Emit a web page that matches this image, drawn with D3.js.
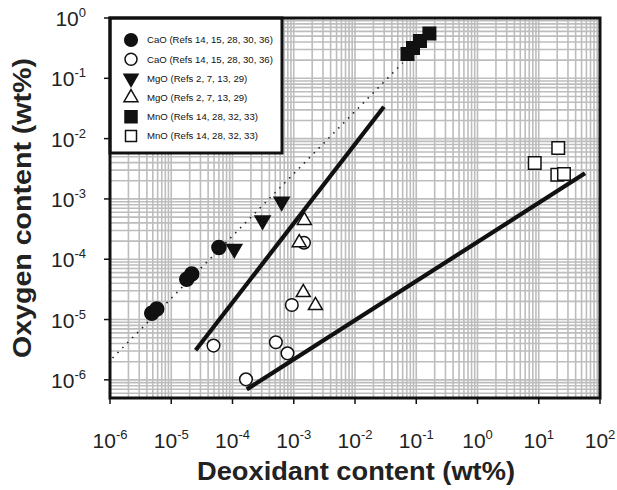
<!DOCTYPE html>
<html>
<head>
<meta charset="utf-8">
<script src="https://cdn.jsdelivr.net/npm/d3@7"></script>
<style>
  body { margin: 0; background: #fff; }
  svg { display: block; font-family: "Liberation Sans", Arial, sans-serif; }
</style>
</head>
<body>
<div class="chart"></div>
<script>
// data (wt%)
const caoFilled = [[4.8e-6, 1.27e-5], [5.8e-6, 1.49e-5], [1.79e-5, 4.64e-5], [2.16e-5, 5.69e-5], [6.0e-5, 1.57e-4]];
const caoOpen = [[1.47e-3, 1.88e-4], [9.3e-4, 1.74e-5], [4.9e-5, 3.7e-6], [5.1e-4, 4.2e-6], [7.9e-4, 2.75e-6], [1.66e-4, 1.02e-6]];
const mgoFilled = [[1.07e-4, 1.49e-4], [3.1e-4, 4.4e-4], [6.35e-4, 9.0e-4]];
const mgoOpen = [[1.49e-3, 4.4e-4], [1.23e-3, 1.88e-4], [1.43e-3, 2.8e-5], [2.26e-3, 1.71e-5]];
const mnoFilled = [[0.072, 0.253], [0.0885, 0.318], [0.115, 0.416], [0.164, 0.553]];
const mnoOpen = [[8.6, 3.94e-3], [20.8, 6.98e-3], [20.1, 2.52e-3], [25.8, 2.59e-3]];
const lineA = [[2.5e-5, 3.1e-6], [0.0297, 0.0338]];
const lineB = [[1.71e-4, 6.95e-7], [56.9, 2.66e-3]];
const dottedFit = [[1.1e-6, 2.3e-6], [0.06, 0.18]];

const xTicks = [-6, -5, -4, -3, -2, -1, 0, 1, 2];
const yTicks = [0, -1, -2, -3, -4, -5, -6];
const legendLabels = ["CaO (Refs 14, 15, 28, 30, 36)", "CaO (Refs 14, 15, 28, 30, 36)",
  "MgO (Refs 2, 7, 13, 29)", "MgO (Refs 2, 7, 13, 29)",
  "MnO (Refs 14, 28, 32, 33)", "MnO (Refs 14, 28, 32, 33)"];

const W = 617, H = 490;
const plot = {left: 110, right: 600, top: 18, bottom: 398};

const svg = d3.select(".chart").append("svg")
  .attr("width", W).attr("height", H);

const xScale = d3.scaleLog().domain([1e-6, 1e2]).range([plot.left, plot.right]);
const yScale = d3.scaleLog().domain([5e-7, 1]).range([plot.bottom, plot.top]);

// grid (every 1..9 x decade)
const xGrid = [], yGrid = [];
for (let e = -6; e < 2; e++) for (let k = 1; k < 10; k++) xGrid.push(k * Math.pow(10, e));
for (let e = -7; e < 0; e++) for (let k = 1; k < 10; k++) {
  const v = k * Math.pow(10, e);
  if (v >= 5e-7) yGrid.push(v);
}

const grid = svg.append("g").attr("stroke", "#bdbdbd").attr("stroke-width", 1.6);
grid.selectAll(".gx").data(xGrid).join("line")
  .attr("x1", d => xScale(d)).attr("x2", d => xScale(d))
  .attr("y1", plot.top).attr("y2", plot.bottom);
grid.selectAll(".gy").data(yGrid).join("line")
  .attr("y1", d => yScale(d)).attr("y2", d => yScale(d))
  .attr("x1", plot.left).attr("x2", plot.right);

const line = d3.line().x(d => xScale(d[0])).y(d => yScale(d[1]));

svg.append("path").datum(dottedFit)
  .attr("d", line)
  .attr("fill", "none").attr("stroke", "#222").attr("stroke-width", 1.6)
  .attr("stroke-dasharray", "1.5,5.5");

svg.selectAll(".fit").data([lineA, lineB]).join("path")
  .attr("d", line)
  .attr("fill", "none").attr("stroke", "#111").attr("stroke-width", 4.2)
  .attr("stroke-linecap", "butt");

// symbols
const circleSym = r => d3.symbol(d3.symbolCircle, Math.PI * r * r)();
const triSym = w => d3.symbol(d3.symbolTriangle, Math.sqrt(3) / 4 * w * w)();
const sqSym = s => d3.symbol(d3.symbolSquare, s * s)();

const styles = [
  {data: caoFilled, path: circleSym(7), fill: "#111", rot: 0},
  {data: mgoFilled, path: triSym(15), fill: "#111", rot: 180},
  {data: mnoFilled, path: sqSym(12.5), fill: "#111", rot: 0},
  {data: caoOpen, path: circleSym(6.3), fill: "#fff", rot: 0},
  {data: mgoOpen, path: triSym(14), fill: "#fff", rot: 0},
  {data: mnoOpen, path: sqSym(12.5), fill: "#fff", rot: 0}
];

styles.forEach(s => {
  svg.append("g").selectAll("path").data(s.data).join("path")
    .attr("d", s.path)
    .attr("transform", d => `translate(${xScale(d[0])},${yScale(d[1])}) rotate(${s.rot})`)
    .attr("fill", s.fill)
    .attr("stroke", "#111").attr("stroke-width", 1.5);
});

// legend
const legend = svg.append("g");
legend.append("rect")
  .attr("x", plot.left).attr("y", plot.top)
  .attr("width", 172).attr("height", 135)
  .attr("fill", "#fff").attr("stroke", "#111").attr("stroke-width", 3);

const legendSyms = [
  {path: circleSym(6.3), fill: "#111", rot: 0},
  {path: circleSym(6), fill: "#fff", rot: 0},
  {path: triSym(14), fill: "#111", rot: 180},
  {path: triSym(14), fill: "#fff", rot: 0},
  {path: sqSym(12), fill: "#111", rot: 0},
  {path: sqSym(11), fill: "#fff", rot: 0}
];

const rows = legend.selectAll(".row").data(legendLabels).join("g")
  .attr("transform", (d, i) => `translate(131,${40 + i * 19.2})`);
rows.append("path")
  .attr("d", (d, i) => legendSyms[i].path)
  .attr("transform", (d, i) => `rotate(${legendSyms[i].rot})`)
  .attr("fill", (d, i) => legendSyms[i].fill)
  .attr("stroke", "#111").attr("stroke-width", 1.5);
rows.append("text")
  .attr("x", 16).attr("dy", "0.35em")
  .attr("font-size", 9.6).attr("fill", "#111")
  .text(d => d);

// frame + ticks
svg.append("rect")
  .attr("x", plot.left).attr("y", plot.top)
  .attr("width", plot.right - plot.left).attr("height", plot.bottom - plot.top)
  .attr("fill", "none").attr("stroke", "#111").attr("stroke-width", 3);

svg.append("g").selectAll("line").data(xTicks).join("line")
  .attr("x1", d => xScale(Math.pow(10, d))).attr("x2", d => xScale(Math.pow(10, d)))
  .attr("y1", plot.bottom).attr("y2", plot.bottom + 6)
  .attr("stroke", "#111").attr("stroke-width", 1.5);
svg.append("g").selectAll("line").data(yTicks).join("line")
  .attr("y1", d => yScale(Math.pow(10, d))).attr("y2", d => yScale(Math.pow(10, d)))
  .attr("x1", plot.left - 6).attr("x2", plot.left)
  .attr("stroke", "#111").attr("stroke-width", 1.5);

function powLabel(sel) {
  sel.append("tspan").attr("font-size", 21).text("10");
  sel.append("tspan").attr("font-size", 13).attr("dy", -9).text(d => d);
}

svg.append("g").selectAll("text").data(xTicks).join("text")
  .attr("x", d => xScale(Math.pow(10, d)))
  .attr("y", 448)
  .attr("text-anchor", "middle").attr("fill", "#222")
  .call(powLabel);

svg.append("g").selectAll("text").data(yTicks).join("text")
  .attr("x", 86)
  .attr("y", d => yScale(Math.pow(10, d)) + 8)
  .attr("text-anchor", "end").attr("fill", "#222")
  .call(powLabel);

// axis titles
svg.append("text")
  .attr("x", 356).attr("y", 480)
  .attr("text-anchor", "middle")
  .attr("font-size", 26).attr("font-weight", "bold").attr("fill", "#222")
  .attr("textLength", 318).attr("lengthAdjust", "spacingAndGlyphs")
  .text("Deoxidant content (wt%)");

svg.append("text")
  .attr("transform", "translate(31,208) rotate(-90)")
  .attr("text-anchor", "middle")
  .attr("font-size", 25).attr("font-weight", "bold").attr("fill", "#222")
  .attr("textLength", 300).attr("lengthAdjust", "spacingAndGlyphs")
  .text("Oxygen content (wt%)");
</script>
</body>
</html>
